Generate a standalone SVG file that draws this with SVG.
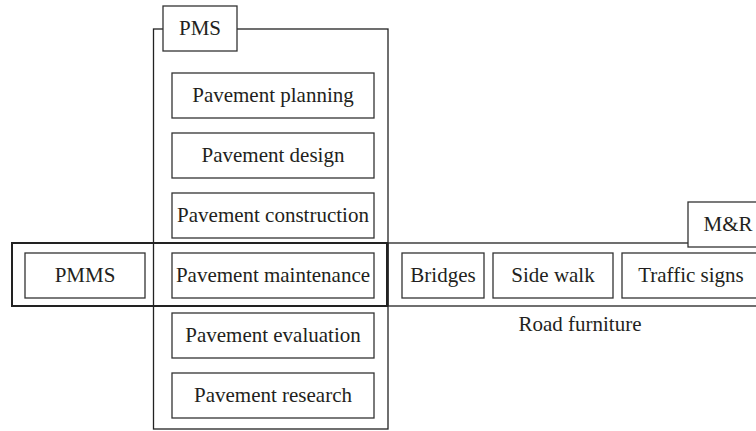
<svg xmlns="http://www.w3.org/2000/svg" width="756" height="431" viewBox="0 0 756 431">
<style>
.b{fill:#fff;stroke:#333;stroke-width:1.3}
.o{fill:none;stroke:#222;stroke-width:1.3}
text{font-family:'Liberation Serif','Times New Roman','DejaVu Serif',serif;font-size:21px;fill:#231f20;text-anchor:middle}
</style>
<rect width="756" height="431" fill="#fff"/>
<g id="mr-group">
<rect class="o" x="388" y="243" width="380" height="63"/>
</g>
<g id="pms-group">
<rect class="o" x="153.5" y="29" width="234.5" height="400"/>
</g>
<g id="pmms-group">
<rect fill="none" stroke="#222" stroke-width="2" x="12" y="243" width="375" height="63"/>
</g>
<g font-family="Liberation Serif, serif">
<g id="pms-tab"><rect class="b" x="163" y="6" width="74" height="45"/><text x="200" y="35">PMS</text></g>
<g id="mr-tab"><rect class="b" x="688" y="202" width="80" height="45"/><text x="728" y="231">M&amp;R</text></g>
<g id="planning"><rect class="b" x="172" y="73" width="202" height="45"/><text x="273" y="102">Pavement planning</text></g>
<g id="design"><rect class="b" x="172" y="133" width="202" height="45"/><text x="273" y="162">Pavement design</text></g>
<g id="construction"><rect class="b" x="172" y="193" width="202" height="45"/><text x="273" y="222">Pavement construction</text></g>
<g id="maintenance"><rect class="b" x="172" y="253" width="202" height="45"/><text x="273" y="282">Pavement maintenance</text></g>
<g id="evaluation"><rect class="b" x="172" y="313" width="202" height="45"/><text x="273" y="342">Pavement evaluation</text></g>
<g id="research"><rect class="b" x="172" y="373" width="202" height="45"/><text x="273" y="402">Pavement research</text></g>
<g id="pmms"><rect class="b" x="25" y="253" width="120" height="45"/><text x="85" y="282">PMMS</text></g>
<g id="bridges"><rect class="b" x="402" y="253" width="82" height="45"/><text x="443" y="282">Bridges</text></g>
<g id="sidewalk"><rect class="b" x="493" y="253" width="120" height="45"/><text x="553" y="282">Side walk</text></g>
<g id="traffic"><rect class="b" x="622" y="253" width="140" height="45"/><text x="691" y="282">Traffic signs</text></g>
<g id="road-furniture"><text x="580" y="331">Road furniture</text></g>
</g>
<g id="connectors"></g>
</svg>
